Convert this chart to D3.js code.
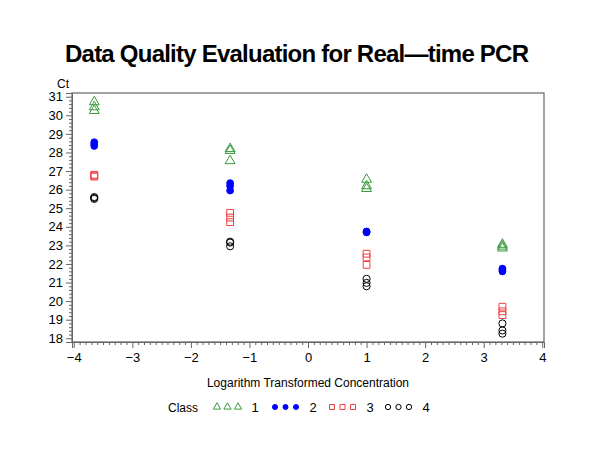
<!DOCTYPE html>
<html><head><meta charset="utf-8">
<script src="https://cdn.jsdelivr.net/npm/d3@7/dist/d3.min.js"></script>
<style>body{margin:0;background:#fff}svg{display:block}text{font-family:"Liberation Sans",Arial,sans-serif}</style>
</head><body><svg id="c" width="600" height="450"></svg>
<script>
const concentrations = [-3.65, -1.33, 1.0, 3.32];
const class1 = [[30.72, 30.45, 30.25], [28.2, 28.1, 27.55], [26.55, 26.2, 26.05], [23.05, 22.95, 22.85]];
const class2 = [[28.55, 28.45, 28.35], [26.35, 26.2, 25.95], [23.75, 23.72, 23.7], [21.75, 21.68, 21.6]];
const class3 = [[26.8, 26.75, 26.7], [24.75, 24.5, 24.25], [22.55, 22.35, 21.95], [19.7, 19.45, 19.25]];
const class4 = [[25.6, 25.55, 25.5], [23.2, 23.15, 22.95], [21.2, 20.98, 20.8], [18.8, 18.42, 18.25]];
const classNames = ["1", "2", "3", "4"];
const xTicks = [-4, -3, -2, -1, 0, 1, 2, 3, 4];
const yTicks = [18, 19, 20, 21, 22, 23, 24, 25, 26, 27, 28, 29, 30, 31];

const svg = d3.select("#c");
const L = 72, R = 544, T = 93, B = 342;
const x = d3.scaleLinear().domain([-4.03, 4.03]).range([L, R]);
const y = d3.scaleLinear().domain([17.8, 31.2]).range([B, T]);

const styles = [
  {sym: d3.symbolTriangle, color: "#3a9a3a", fill: "none", size: 42},
  {sym: d3.symbolCircle, color: "#0000ff", fill: "#0000ff", size: 36},
  {sym: d3.symbolSquare, color: "#f04040", fill: "none", size: 46},
  {sym: d3.symbolCircle, color: "#000000", fill: "none", size: 40}
];
const series = [class1, class2, class3, class4];

svg.append("text").attr("x", 297).attr("y", 62).attr("text-anchor", "middle")
  .attr("font-size", 24).attr("font-weight", "bold")
  .attr("textLength", 464).attr("lengthAdjust", "spacing")
  .text("Data Quality Evaluation for Real\u2014time PCR");

// frame
svg.append("rect").attr("x", L).attr("y", T).attr("width", R - L).attr("height", B - T)
  .attr("fill", "none").attr("stroke", "#666").attr("stroke-width", 1.2);

// x axis
const xAxis = svg.append("g").attr("transform", `translate(0,${B})`)
  .call(d3.axisBottom(x).tickValues(xTicks).tickSize(6).tickPadding(5)
    .tickFormat(d => d < 0 ? "\u2212" + Math.abs(d) : d));
const xMinor = d3.range(-4, 4.0001, 0.1).filter(v => Math.abs(v - Math.round(v)) > 1e-6);
svg.append("g").attr("transform", `translate(0,${B})`)
  .call(d3.axisBottom(x).tickValues(xMinor).tickSize(3).tickFormat(""))
  .call(g => g.select(".domain").remove());

// y axis
svg.append("g").attr("transform", `translate(${L},0)`)
  .call(d3.axisLeft(y).tickValues(yTicks).tickSize(6).tickPadding(3));
const yMinor = d3.range(18, 31.0001, 0.2).filter(v => Math.abs(v - Math.round(v)) > 1e-6);
svg.append("g").attr("transform", `translate(${L},0)`)
  .call(d3.axisLeft(y).tickValues(yMinor).tickSize(3).tickFormat(""))
  .call(g => g.select(".domain").remove());

svg.selectAll(".domain").attr("stroke", "#666");
svg.selectAll(".tick line").attr("stroke", "#666");
svg.selectAll(".tick text").attr("font-size", 13).attr("fill", "#000")
  .attr("font-family", "'Liberation Sans',Arial,sans-serif");

svg.append("text").attr("x", 63).attr("y", 88).attr("text-anchor", "middle")
  .attr("font-size", 12).text("Ct");

svg.append("text").attr("x", 308).attr("y", 387).attr("text-anchor", "middle")
  .attr("font-size", 12).text("Logarithm Transformed Concentration");

// points
series.forEach((s, i) => {
  const st = styles[i];
  const pts = [];
  s.forEach((vals, j) => vals.forEach(v => pts.push([concentrations[j], v])));
  svg.append("g").selectAll("path").data(pts).join("path")
    .attr("transform", d => `translate(${x(d[0])},${y(d[1])})`)
    .attr("d", d3.symbol().type(st.sym).size(st.size))
    .attr("fill", st.fill).attr("stroke", st.color).attr("stroke-width", 1);
});

// legend
const ly = 407;
svg.append("text").attr("x", 168).attr("y", ly + 5).attr("font-size", 12).text("Class");
const legX = [217, 275, 332, 388];
styles.forEach((st, i) => {
  for (let k = 0; k < 3; k++) {
    svg.append("path")
      .attr("transform", `translate(${legX[i] + k * 10.5},${ly})`)
      .attr("d", d3.symbol().type(st.sym).size(st.size * 0.55))
      .attr("fill", st.fill).attr("stroke", st.color).attr("stroke-width", 1);
  }
  svg.append("text").attr("x", legX[i] + 38).attr("y", ly + 5).attr("text-anchor", "middle")
    .attr("font-size", 13).text(classNames[i]);
});
</script></body></html>
